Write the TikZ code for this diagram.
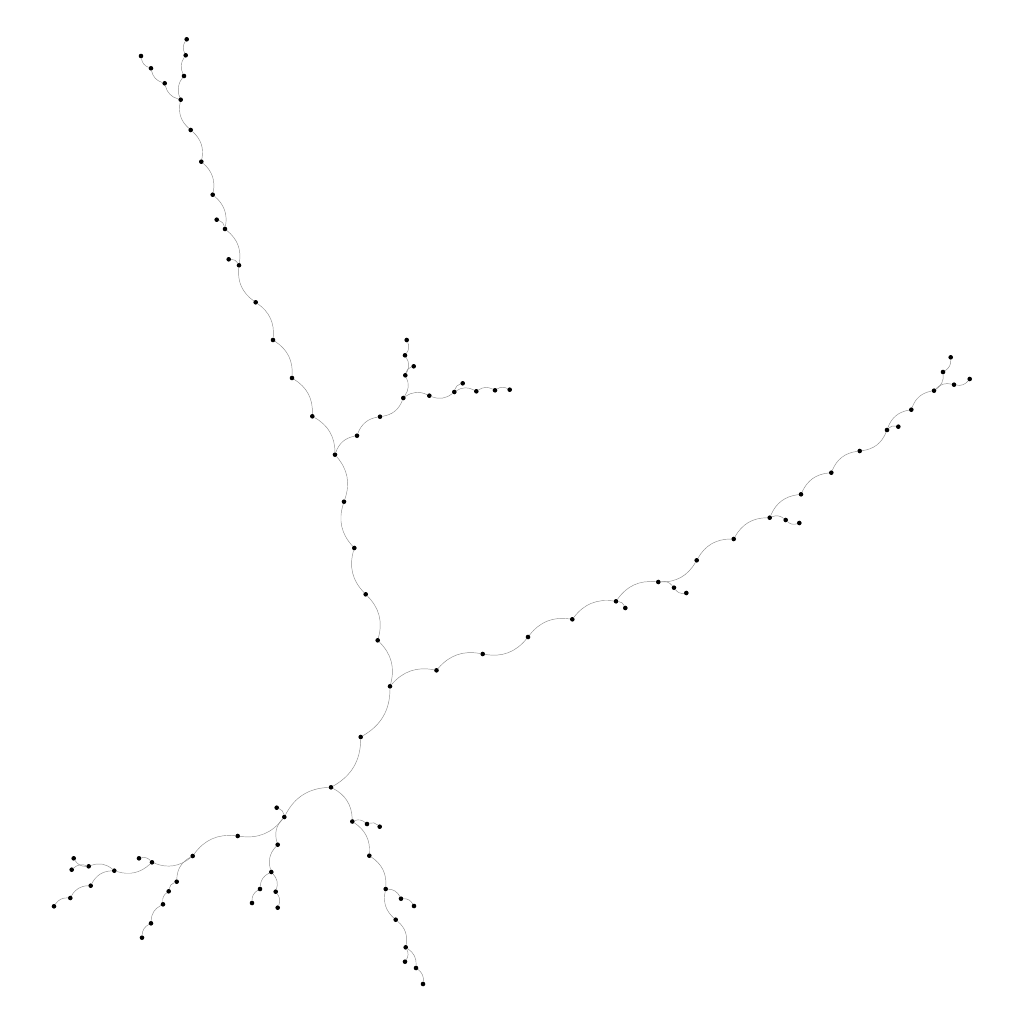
\documentclass[tikz,border=0pt]{standalone}
\usetikzlibrary{positioning}
\tikzstyle{dot_node} = [circle, fill=black, inner sep=0pt, minimum size=4.6pt]
\tikzstyle{tree_edge} = [draw=black!45, line width=0.45pt]
\tikzstyle{bl} = [tree_edge, bend left=30]
\tikzstyle{br} = [tree_edge, bend right=30]
\begin{document}
\begin{tikzpicture}[x=1pt, y=-1pt]
\useasboundingbox (0,0) rectangle (1024,1024);

% upper arm
\foreach \n/\x/\y in {a0/186.7/39.3, a1/185.7/55.3, a2/184/76, b0/180.7/99.7,
    c0/141/56, c1/151/68.3, c2/164.7/83.3, t1/190.7/130, t2/201.3/161.7,
    t3/212.7/194.7, t4/225/229, t4l/216.7/219.7, t5/239/265.3, t5l/228.7/259.3,
    t6/255.7/302.3, t7/273/340, t8/292/378, t9/312.3/416.3, j1/335/454.7}
    \node (\n) [dot_node] at (\x,\y) {};

% middle fork
\foreach \n/\x/\y in {m1/357/435.7, m2/380/416.7, k/403.3/398, k1/405.3/375.3,
    k1l/413.7/366.3, k2/405/355.3, k3/406.7/340, h1/429.3/395.7, h2/454.3/392,
    h2l/462.7/383.3, h3/476.3/391.3, h4/495/390.3, h5/509.7/389.7}
    \node (\n) [dot_node] at (\x,\y) {};

% trunk and right arm
\foreach \n/\x/\y in {s1/344/501.7, s2/354.3/548, s3/365.7/594.3, s4/377.7/640.3,
    j2/390/686.3, r1/436.5/670.3, r2/482.7/654, r3/528/637, r4/572.3/619.3,
    r5/616/601.3, r5l/625.3/608, r6/658.3/582, r6a/674/587.7, r6b/686.3/593,
    r7/696.7/560.3, r8/733.7/539, r9/769.7/517.7, r9a/785.7/520, r9b/799.3/523,
    r10/801/494.3, r11/831.3/472.7, r12/859.7/451, r13/887/430, r13l/898.3/426.7,
    r14/911.3/409.7, r15/934/390.7, r16/943/372, r17/950.7/357.3,
    r15a/954/384.7, r15b/969.7/379}
    \node (\n) [dot_node] at (\x,\y) {};

% lower arms
\foreach \n/\x/\y in {u1/360.7/737, j3/331/787.3, j4/284.3/817, j4l/276.7/807.7,
    j5/352.3/821.5, w1/237.7/836, j6/192.7/856, w2/152/862.3, w2l/139/858.3,
    w3/114.3/870.7, w4/88.7/866.3, w4a/73.7/858.3, w4b/71.7/869.7, w5/90.7/885.7,
    w6/70.3/898, w7/54/906.3, v1/176.7/881.7, v2/168.7/891.3, v3/163/904.3,
    v4/151/923.3, v5/142/937.7, p1/277.7/844.7, j7/271.3/872, p2/260/889,
    p3/252/903, p4/275.7/891.7, p5/277.7/907.7, q1/367/824, q2/379.7/826.7,
    q3/369.3/855.7, q4/385.7/889, q4a/401/898.7, q4b/414/906, q5/395.7/919.7,
    q6/405.7/947.3, q6l/405/961.7, q7/416/968, q8/423/984}
    \node (\n) [dot_node] at (\x,\y) {};

% edges bending left
\foreach \a/\b in {t1/t2, t2/t3, t3/t4, t4l/t4, t4/t5, t5l/t5, t6/t7, t7/t8,
    t8/t9, t9/j1, j1/m1, m1/m2, k/h1, k1/k1l, h2/h2l, h2/h3, h3/h4, h4/h5,
    j1/s1, s3/s4, s4/j2, j2/r1, r1/r2, r3/r4, r4/r5, r5/r6, r5/r5l, r6/r6a,
    r7/r8, r8/r9, r9/r9a, r9/r10, r10/r11, r11/r12, r13/r14, r13/r13l, r14/r15,
    r15/r15a, j2/u1, u1/j3, j3/j5, j4/w1, j6/w2, w2/w3, w2l/w2, w4/w4a, j4l/j4,
    j5/q1, q1/q2, j5/q3, q3/q4, q4/q4a, q4a/q4b, q5/q6, q6/q7, q7/q8, q6/q6l,
    j7/p4, p4/p5}
    \draw [bl] (\a) to (\b);

% edges bending right
\foreach \a/\b in {a0/a1, a1/a2, a2/b0, c0/c1, c1/c2, c2/b0, b0/t1, t5/t6,
    m2/k, k/k1, k1/k2, k2/k3, h1/h2, s1/s2, s2/s3, r2/r3, r6/r7, r12/r13,
    r15/r16, r16/r17, r15a/r15b, r6a/r6b, r9a/r9b, j3/j4, w1/j6, w3/w4,
    w4/w4b, w3/w5, w5/w6, w6/w7, j6/v1, v1/v2, v2/v3, v3/v4, v4/v5, j4/p1,
    p1/j7, j7/p2, p2/p3, q4/q5}
    \draw [br] (\a) to (\b);
\end{tikzpicture}
\end{document}
